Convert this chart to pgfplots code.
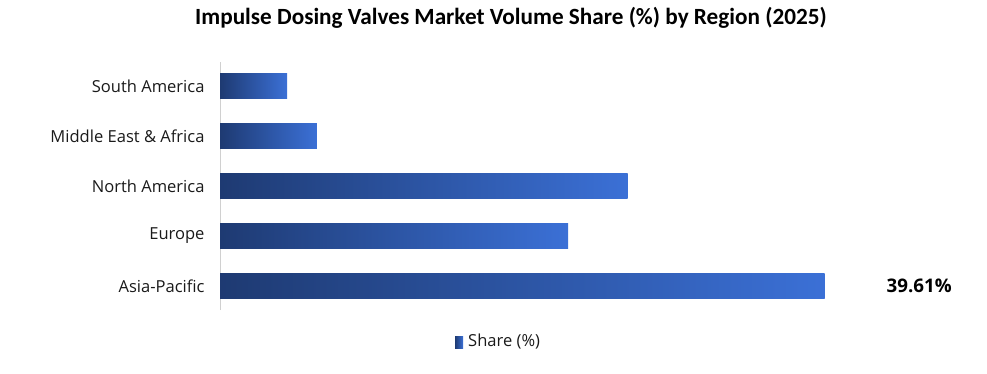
\documentclass[border=0pt]{standalone}
\usepackage{pgfplots}
\pgfplotsset{compat=1.18}
\usepackage{fontspec}
\setmainfont{Carlito}
\newfontfamily\osans{Open Sans}
\definecolor{bardark}{HTML}{1E3A72}
\definecolor{barlight}{HTML}{3B70D6}
\definecolor{axisgray}{HTML}{D0D0D0}
\definecolor{txt}{HTML}{1A1A1A}
\begin{document}
\begin{tikzpicture}[x=1bp,y=1bp]
\path[use as bounding box] (0,0) rectangle (987,373);
\node[font=\bfseries\fontsize{23.3}{26}\selectfont, text=black] at (511,355) {Impulse Dosing Valves Market Volume Share (\%) by Region (2025)};
\begin{axis}[
  at={(220bp,63bp)}, anchor=south west,
  scale only axis,
  width=687bp, height=248bp,
  xbar, bar shift=0pt,
  bar width=0.5,
  xmin=0, xmax=45,
  ymin=-0.48, ymax=4.48,
  axis x line=none,
  axis y line*=left,
  y axis line style={draw=axisgray, line width=0.8pt, -},
  ytick={0,1,2,3,4},
  yticklabels={Asia-Pacific,Europe,North America,Middle East \& Africa,South America},
  major tick length=0pt,
  yticklabel style={font=\osans\fontsize{16.6}{18}\selectfont, text=txt, xshift=-12bp},
  clip=false,
  every axis plot/.append style={draw=none, left color=bardark, right color=barlight},
]
\addplot coordinates {(39.61,0)};
\addplot coordinates {(22.8,1)};
\addplot coordinates {(26.7,2)};
\addplot coordinates {(6.35,3)};
\addplot coordinates {(4.39,4)};
\node[font=\osans\bfseries\fontsize{18.8}{20}\selectfont, text=black] at (axis cs:45.8,0) {39.61\%};
\end{axis}
\fill[left color=bardark, right color=barlight] (455,25) rectangle (463,37);
\node[anchor=west, font=\osans\fontsize{16.6}{18}\selectfont, text=txt, inner sep=0pt] at (468,31) {Share (\%)};
\end{tikzpicture}
\end{document}
